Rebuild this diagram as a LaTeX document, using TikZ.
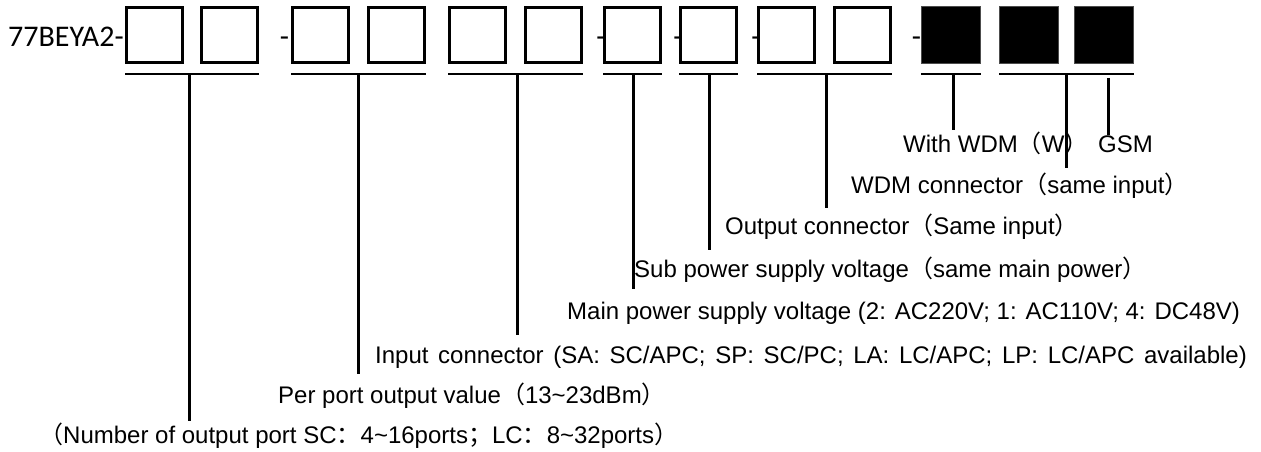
\documentclass[tikz,border=0pt]{standalone}
\usepackage{fontspec}
\setmainfont{Liberation Sans}
\newfontfamily\codefont{Carlito}
\newfontfamily\cjkfont{Noto Sans CJK SC}
\newfontfamily\widefont[WordSpace=1.45]{Liberation Sans}
\usetikzlibrary{positioning,calc}
\newcommand{\fw}[1]{{\cjkfont #1}}
\tikzset{
  cell/.style={draw, line width=3pt, minimum width=56pt, minimum height=55pt, inner sep=0pt},
  fcell/.style={fill=black, draw=black!70, line width=0.6pt, minimum width=59pt, minimum height=57pt, inner sep=0pt},
  uline/.style={line width=2pt},
  stem/.style={line width=3pt},
  lbl/.style={anchor=base west, inner sep=0pt, font=\fontsize{24}{28}\selectfont},
  hyph/.style={anchor=base, inner sep=0pt, font=\codefont\fontsize{30}{34}\selectfont},
}
\begin{document}
\begin{tikzpicture}[x=1pt, y=-1pt]
\useasboundingbox (0,0) rectangle (1261,452);

% Model code and code cells
\node[anchor=base west, inner sep=0pt, font=\codefont\fontsize{30}{34}\selectfont] (model) at (8,47) {77BEYA2-};
\foreach \i/\x in {1/125,2/200,3/291,4/367,5/448,6/524,7/603,8/679,9/757,10/833}
  \node[cell] (b\i) at (\x+29.5,35) {};
\foreach \i/\x in {11/921,12/999,13/1074}
  \node[fcell] (b\i) at (\x+30,35) {};
\foreach \x [count=\i] in {284.5,601,678,756,916.5}
  \node[hyph] (hy\i) at (\x,47) {-};

% Labels
\node[lbl] (gsm) at (1098,152) {GSM};
\node[lbl] (wwdm) at (903,152) {With WDM\fw{（}W\fw{）}};
\node[lbl] (wdmc) at (851,193) {WDM connector\fw{（}same input\fw{）}};
\node[lbl] (outc) at (725,234) {Output connector\fw{（}Same input\fw{）}};
\node[lbl] (subp) at (634,277) {Sub power supply voltage\fw{（}same main power\fw{）}};
\node[lbl] (mainp) at (567,319) {Main power supply voltage (2: AC220V; 1: AC110V; 4: DC48V)};
\node[lbl] (inc) at (375,363) {\widefont Input connector (SA: SC/APC; SP: SC/PC; LA: LC/APC; LP: LC/APC available)};
\node[lbl] (ppo) at (278,403) {Per port output value\fw{（}13\textasciitilde 23dBm\fw{）}};
\node[lbl] (nop) at (39,443) {\fw{（}Number of output port SC\fw{：}4\textasciitilde 16ports\fw{；}LC\fw{：}8\textasciitilde 32ports\fw{）}};

% Brackets and leaders
\coordinate (ul) at (0,74);
\foreach \a/\b/\x/\y in {1/2/189/421, 3/4/358/374, 5/6/517/335, 7/7/633/289, 8/8/709/250, 9/10/826/208, 11/11/953/130, 12/13/1066/168} {
  \draw[uline] (b\a.west |- ul) -- (b\b.east |- ul);
  \coordinate (t\a) at (\x,74);
  \coordinate (e\a) at (\x,\y);
  \draw[stem] (t\a) -- (e\a);
}
\coordinate (tg) at (1108,78);
\draw[stem] (tg) -- (tg |- gsm.north);

\end{tikzpicture}
\end{document}
